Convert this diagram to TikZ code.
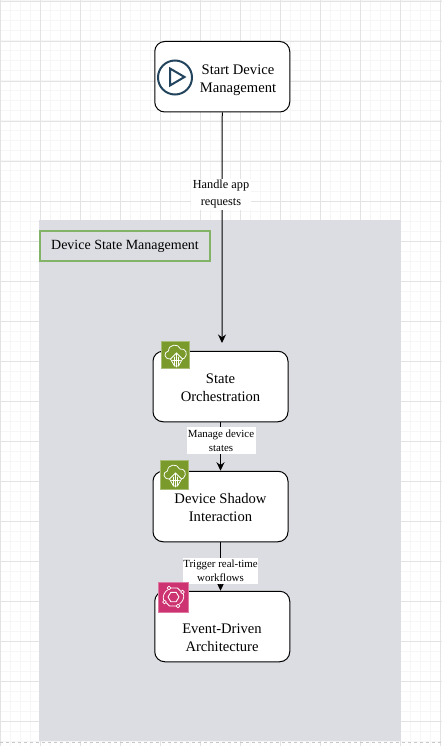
\documentclass[tikz,border=0pt]{standalone}
\usepackage{fontspec}
\setmainfont{Liberation Serif}
\usetikzlibrary{arrows.meta}
\definecolor{areagray}{HTML}{DCDDE2}
\definecolor{iconGreen}{HTML}{7A9A2C}
\definecolor{iconPink}{HTML}{CC3370}
\definecolor{labGreen}{HTML}{82B366}
\definecolor{playBlue}{HTML}{23445D}
\tikzset{
  x=1pt,y=-1pt,
  flow/.style={draw=black,fill=white,rounded corners=10pt,line width=1pt,minimum width=135pt,minimum height=70.5pt,align=center,inner sep=0pt},
  boxtext/.style={align=center,inner sep=0pt,font=\fontsize{14.6}{18}\selectfont},
  conn/.style={draw=black,line width=1pt,-{Stealth[length=8.5pt,width=8pt]}},
  elabel/.style={fill=white,inner sep=1pt,align=center},
  icon/.style={line width=0.75pt,draw=white,fill=none,line cap=round,line join=round},
}
\begin{document}
\begin{tikzpicture}
\useasboundingbox (0,0) rectangle (442,746);
\fill[white] (0,0) rectangle (442,746);
% grid
\foreach \i in {0,...,44}{\draw[black!3.5,line width=1pt] (\i*10,0) -- (\i*10,746);}
\foreach \i in {0,...,74}{\draw[black!3.5,line width=1pt] (0,\i*10+1) -- (442,\i*10+1);}
\foreach \i in {0,...,11}{\draw[black!11,line width=0.8pt] (\i*40,0) -- (\i*40,746);}
\foreach \i in {0,...,18}{\draw[black!11,line width=0.8pt] (0,\i*40+1) -- (442,\i*40+1);}
\draw[black!22,dashed,line width=0.8pt] (0,742) -- (442,742);
% area
\fill[areagray] (39,220) rectangle (401,741);
\node[draw=labGreen,line width=1.6pt,fill=areagray,minimum width=170pt,minimum height=30pt,inner sep=0pt,font=\fontsize{14}{17}\selectfont] (area) at (125,246) {Device State Management};
% boxes
\node[flow] (start) at (222.25,76.75) {};
\node[flow] (state) at (220.5,386.5) {};
\node[flow] (shadow) at (220.5,506.5) {};
\node[flow] (event) at (222.25,626.5) {};
\node[boxtext] (startlab) at (238,80) {Start Device\\Management};
\node[boxtext] (statelab) at (220.5,388) {State\\Orchestration};
\node[boxtext] (shadowlab) at (220.5,508) {Device Shadow\\Interaction};
\node[boxtext] (eventlab) at (222,638) {Event-Driven\\Architecture};
% connectors
\coordinate (tip) at (222,343);
\draw[conn] (start.south) -- (tip);
\draw[conn] (state.south) -- (shadow.north);
\draw[conn] (shadow.south) -- (shadow.south |- event.north);
\node[elabel,font=\fontsize{12.3}{17}\selectfont,inner sep=1.5pt] (l1) at (221,194.5) {Handle app\\requests};
\node[elabel,font=\fontsize{10.9}{14}\selectfont,minimum width=69pt,minimum height=27pt,inner sep=0pt] (l2) at (221,440.5) {Manage device\\states};
\node[elabel,font=\fontsize{10.9}{14}\selectfont,minimum width=75pt,minimum height=26pt,inner sep=0pt] (l3) at (220.5,570.5) {Trigger real-time\\workflows};
% play icon
\node[draw=playBlue,line width=2pt,circle,minimum size=34pt,inner sep=0pt] (play) at (175,77.5) {};
\draw[playBlue,line width=2pt,line join=miter] (170,68.5) -- (184.5,77) -- (170,85.5) -- cycle;
% cloud icons
\foreach \nm/\cx/\cy/\sz in {ic1/175.5/355/27.5, ic2/174.5/475/28.5}{
  \node[fill=iconGreen,draw=iconGreen!65!white,line width=0.7pt,minimum size=\sz pt,inner sep=0pt] (\nm) at (\cx,\cy) {};
  \begin{scope}[shift={(\cx,\cy)}]
    \draw[icon] (-5,4) .. controls (-12,4) and (-12,-3) .. (-7,-4) .. controls (-7,-11) and (3,-12) .. (5,-6) .. controls (10,-7) and (13,-1) .. (9,3) -- (7,4);
    \draw[icon] (-5,4) -- (1,-2) -- (7,4) -- (3,11) -- (-1,11) -- cycle;
    \draw[icon] (1,-2) -- (1,12) (-1,2) -- (-1,11) (3,2) -- (3,11) (-3,5) -- (5,5);
  \end{scope}
}
% event icon
\node[fill=iconPink,draw=iconPink!65!white,line width=0.7pt,minimum size=30pt,inner sep=0pt] (ic3) at (173.5,597) {};
\begin{scope}[shift={(ic3.center)}]
  \draw[icon,line width=0.9pt] (-5.5,0) -- (-2.7,-4.7) -- (2.7,-4.7) -- (5.5,0) -- (2.7,4.7) -- (-2.7,4.7) -- cycle;
  \draw[icon] (-10,3) .. controls (-11,-1) and (-9,-5) .. (-6,-7) (10,-3) .. controls (11,1) and (9,5) .. (6,7);
  \draw[icon] (-2.5,-9) -- (4,-9) -- (7,-6) (2.5,9) -- (-4,9) -- (-7,6);
  \draw[icon] (-4.5,-9) circle (1.8pt) (9,-5) circle (1.8pt) (4.5,9) circle (1.8pt) (-9,5) circle (1.8pt);
\end{scope}
\end{tikzpicture}
\end{document}
